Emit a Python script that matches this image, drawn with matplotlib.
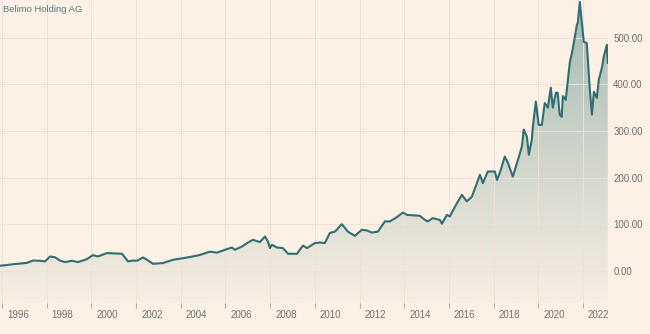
import numpy as np
import matplotlib
matplotlib.use("Agg")
import matplotlib.pyplot as plt
import matplotlib.transforms as mtransforms
from matplotlib.colors import to_rgb

# share price (decimal years, CHF)
years = [1995.91, 1996.49, 1997.12, 1997.39, 1997.70, 1997.92, 1998.15, 1998.37,
         1998.59, 1998.82, 1999.13, 1999.40, 1999.80, 2000.07, 2000.29, 2000.70,
         2001.37, 2001.64, 2001.82, 2002.04, 2002.31, 2002.49, 2002.76, 2003.20,
         2003.65, 2004.10, 2004.54, 2004.86, 2005.31, 2005.62, 2005.98, 2006.29,
         2006.42, 2006.74, 2007.01, 2007.23, 2007.54, 2007.77, 2007.90, 2007.99,
         2008.08, 2008.30, 2008.57, 2008.80, 2009.20, 2009.47, 2009.65, 2010.00,
         2010.23, 2010.45, 2010.67, 2010.90, 2011.21, 2011.48, 2011.79, 2012.11,
         2012.33, 2012.55, 2012.82, 2013.14, 2013.36, 2013.67, 2013.94, 2014.12,
         2014.70, 2014.93, 2015.06, 2015.28, 2015.60, 2015.69, 2015.91, 2016.04,
         2016.36, 2016.58, 2016.80, 2017.03, 2017.39, 2017.52, 2017.74, 2018.06,
         2018.15, 2018.28, 2018.50, 2018.64, 2018.86, 2019.09, 2019.27, 2019.35,
         2019.49, 2019.58, 2019.71, 2019.76, 2019.89, 2020.02, 2020.16, 2020.29,
         2020.43, 2020.56, 2020.65, 2020.79, 2020.87, 2020.96, 2021.05, 2021.10,
         2021.23, 2021.41, 2021.55, 2021.73, 2021.77, 2021.86, 2021.95, 2022.04,
         2022.17, 2022.31, 2022.40, 2022.49, 2022.62, 2022.71, 2022.85, 2022.93,
         2023.07, 2023.11]
prices = [10.7, 14, 17, 22, 21.5, 20, 30.7, 29,
          22, 18.6, 21.5, 18.6, 25, 33.7, 30.7, 38,
          36.5, 20, 22, 21.5, 28.5, 23.6, 15, 16.5,
          23.6, 27, 30.7, 34, 41, 39, 45, 50,
          45, 52, 60.7, 66.5, 61.5, 73.6, 63, 48.7,
          55.8, 50, 48.7, 36.5, 36.5, 54, 48.7, 59.4,
          60.7, 59.4, 81, 84, 100, 84, 75, 88,
          86.5, 82, 84, 106, 106, 115, 125, 120,
          118, 109, 106, 113, 109, 101, 120, 116.5,
          145, 163, 149, 159, 206, 188, 213, 213,
          195, 210, 245, 232, 202, 238, 267, 303,
          288, 249, 281, 310, 363, 313, 313, 360,
          350, 393, 350, 382, 382, 335, 330, 375,
          367, 446, 478, 528, 532, 577, 532, 491,
          489, 388, 335, 384, 371, 410, 436, 459,
          485, 446]

tick_years = list(range(1996, 2024, 2))
y_ticks = [0, 100, 200, 300, 400, 500]
title = "Belimo Holding AG"

bg = "#fdf1e6"
line_col = "#2f6e72"
ymin, ymax = -69, 581
xmin, xmax = 1995.91, 2023.11

fig = plt.figure(figsize=(6.5, 3.34), dpi=100, facecolor=bg)
ax = fig.add_axes([0, 0.093, 0.935, 0.907])
ax.set_facecolor(bg)
ax.set_xlim(xmin, xmax)
ax.set_ylim(ymin, ymax)

# gradient fill under the line
top = np.array(to_rgb("#93b0a9"))
bot = np.array(to_rgb("#f7eee3"))
t = np.linspace(1, 0, 256)[:, None]
grad = (t * top + (1 - t) * bot)[:, None, :]
im = ax.imshow(grad, extent=[xmin, xmax, ymin, ymax], aspect="auto",
               origin="upper", zorder=1, alpha=0.85)
poly = ax.fill_between(years, prices, ymin, facecolor="none", edgecolor="none")
clip = poly.get_paths()[0]
im.set_clip_path(clip, transform=ax.transData)

ax.plot(years, prices, color=line_col, lw=1.5, zorder=3, solid_joinstyle="round")

ax.grid(True, color="#efe1d4", lw=0.7, zorder=2)
ax.set_axisbelow(False)
for s in ax.spines.values():
    s.set_visible(False)

ax.set_xticks(tick_years)
ax.set_xticklabels([str(y) for y in tick_years])
ax.tick_params(axis="x", length=3.6, width=0.8, color="#b5aca4", pad=1.5,
               labelsize=7, labelcolor="#707070")
offset = mtransforms.ScaledTranslation(0.05, 0, fig.dpi_scale_trans)
for lab in ax.get_xticklabels():
    lab.set_horizontalalignment("left")
    lab.set_transform(lab.get_transform() + offset)
    lab.set_family("Liberation Sans")

ax.yaxis.tick_right()
ax.set_yticks(y_ticks)
ax.set_yticklabels(["%.2f" % v for v in y_ticks])
ax.tick_params(axis="y", length=0, pad=4, labelsize=7, labelcolor="#707070")
for lab in ax.get_yticklabels():
    lab.set_family("Liberation Sans")

ax.text(0.005, 0.985, title, transform=ax.transAxes, ha="left", va="top",
        fontsize=6.8, color="#4f7e86", family="Liberation Sans", zorder=5)

fig.savefig("out.png", dpi=100, facecolor=bg)
